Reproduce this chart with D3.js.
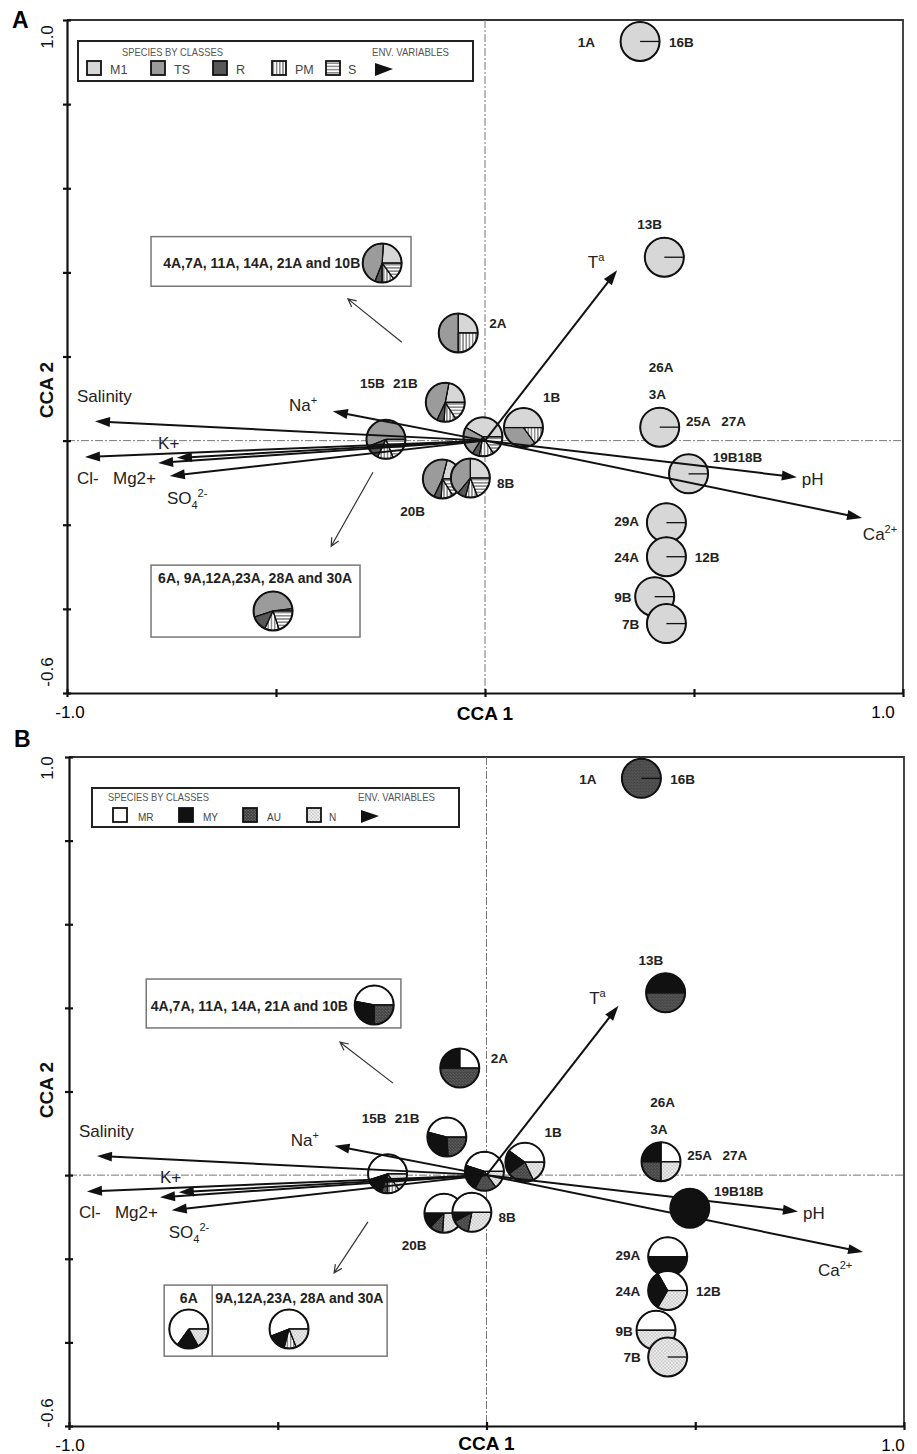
<!DOCTYPE html>
<html>
<head>
<meta charset="utf-8">
<style>
  body { margin: 0; background: #fff; }
  svg { display: block; font-family: "Liberation Sans", Arial, sans-serif; }
</style>
</head>
<body>
<svg id="chart" width="917" height="1454"></svg>
<script src="https://d3js.org/d3.v7.min.js"></script>
<script>
// ---- data ----

// environmental variables (arrow tips, CCA1 / CCA2)
const envNames = ["Salinity", "Na+", "K+", "Cl-", "Mg2+", "SO42-", "Ta", "pH", "Ca2+"];
const envX = [-0.933, -0.364, -0.737, -0.957, -0.782, -0.754, 0.316, 0.746, 0.902];
const envY = [ 0.046,  0.070, -0.041, -0.039, -0.053, -0.084, 0.405, -0.087, -0.184];

// sites (pie centres)
const siteIds = ["1A16B", "13B", "2A", "15B21B", "grp", "mid", "1B", "20B", "8B",
                 "25A", "19B18B", "29A", "24A", "9B", "7B"];
const siteX = [0.371, 0.429, -0.064, -0.095, -0.237, -0.005, 0.092, -0.102, -0.035,
               0.418, 0.487, 0.434, 0.434, 0.406, 0.434];
const siteY = [0.949, 0.436, 0.256, 0.091, 0.003, 0.009, 0.031, -0.091, -0.089,
               0.032, -0.079, -0.195, -0.276, -0.371, -0.435];

// site labels
const siteLabels = ["1A", "16B", "13B", "2A", "15B", "21B", "1B", "20B", "8B", "26A", "3A",
                    "25A", "27A", "19B18B", "29A", "24A", "12B", "9B", "7B"];

// panel A: species by classes
const classesA = ["M1", "TS", "R", "PM", "S"];
const valuesA = [
  [1, 0, 0, 0, 0],
  [1, 0, 0, 0, 0],
  [0.25, 0.50, 0, 0.25, 0],
  [0.22, 0.46, 0.06, 0.10, 0.16],
  [0, 0.56, 0.12, 0.13, 0.19],
  [0.42, 0.24, 0.06, 0.12, 0.16],
  [0.50, 0.35, 0, 0.15, 0],
  [0.21, 0.47, 0.06, 0.10, 0.16],
  [0.25, 0.39, 0.07, 0.10, 0.19],
  [1, 0, 0, 0, 0],
  [1, 0, 0, 0, 0],
  [1, 0, 0, 0, 0],
  [1, 0, 0, 0, 0],
  [1, 0, 0, 0, 0],
  [1, 0, 0, 0, 0]
];
const inset4A_A = [0.24, 0.45, 0.06, 0.10, 0.15];
const inset6A_A = [0.02, 0.53, 0.13, 0.12, 0.20];

// panel B: species by classes (4th value = striped slice drawn without a legend entry)
const classesB = ["MR", "MY", "AU", "N"];
const valuesB = [
  [0, 0, 1, 0, 0],
  [0, 0.5, 0.5, 0, 0],
  [0.25, 0.25, 0.5, 0, 0],
  [0.46, 0.30, 0.24, 0, 0],
  [0.55, 0.15, 0.05, 0.10, 0.15],
  [0.45, 0.22, 0.18, 0, 0.15],
  [0.40, 0.20, 0.22, 0, 0.18],
  [0.50, 0.13, 0.11, 0, 0.26],
  [0.50, 0.08, 0.14, 0, 0.28],
  [0.25, 0.25, 0.25, 0, 0.25],
  [0, 1, 0, 0, 0],
  [0.5, 0.5, 0, 0, 0],
  [0.333, 0.333, 0, 0, 0.334],
  [0.5, 0, 0, 0, 0.5],
  [0, 0, 0, 0, 1]
];
const inset4A_B = [0.47, 0.28, 0.25, 0, 0];
const inset6A_B = [0.65, 0.18, 0, 0, 0.17];
const inset9A_B = [0.56, 0.15, 0, 0.10, 0.19];

const xTickValues = [-1, -0.5, 0, 0.5, 1];
const yTickValues = [-0.6, -0.4, -0.2, 0, 0.2, 0.4, 0.6, 0.8, 1.0];

// ---- layout ----
const siteLabelPos = [[0.222, 0.936], [0.44, 0.936], [0.364, 0.503], [0.01, 0.267], [-0.299, 0.125],
  [-0.22, 0.125], [0.139, 0.092], [-0.203, -0.179], [0.029, -0.113], [0.392, 0.163], [0.392, 0.099],
  [0.481, 0.035], [0.565, 0.035], [0.545, -0.05], [0.309, -0.203], [0.309, -0.289], [0.502, -0.289],
  [0.309, -0.384], [0.328, -0.448]];
const envLabelPosA = [[-0.976, 0.092], [-0.469, 0.070], [-0.782, -0.020], [-0.976, -0.103],
  [-0.890, -0.103], [-0.761, -0.150], [0.246, 0.410], [0.758, -0.105], [0.904, -0.236]];
const envLabelPosB = envLabelPosA.map((p, i) => i === 8 ? [0.794, -0.242] : p);

const R = 19.5;
const svg = d3.select("#chart");
const defs = svg.append("defs");

function linePattern(id, vertical) {
  const p = defs.append("pattern").attr("id", id).attr("patternUnits", "userSpaceOnUse")
    .attr("width", 3.2).attr("height", 3.2);
  p.append("rect").attr("width", 3.2).attr("height", 3.2).attr("fill", "#fff");
  if (vertical) p.append("line").attr("x1", 1.6).attr("x2", 1.6).attr("y1", 0).attr("y2", 3.2);
  else p.append("line").attr("y1", 1.6).attr("y2", 1.6).attr("x1", 0).attr("x2", 3.2);
  p.select("line").attr("stroke", "#333").attr("stroke-width", 0.9);
}
function dotPattern(id, bg, dot, s, r) {
  const p = defs.append("pattern").attr("id", id).attr("patternUnits", "userSpaceOnUse")
    .attr("width", s).attr("height", s);
  p.append("rect").attr("width", s).attr("height", s).attr("fill", bg);
  p.append("circle").attr("cx", s / 4).attr("cy", s / 4).attr("r", r).attr("fill", dot);
  p.append("circle").attr("cx", 3 * s / 4).attr("cy", 3 * s / 4).attr("r", r).attr("fill", dot);
}
linePattern("pm", true);
linePattern("hs", false);
dotPattern("au", "#3e3e3e", "#8c8c8c", 3, 0.6);
dotPattern("nn", "#efefef", "#8a8a8a", 3.4, 0.55);

const fillsA = ["#d7d7d7", "#9b9b9b", "#575757", "url(#pm)", "url(#hs)"];
const fillsB = ["#ffffff", "#111111", "url(#au)", "url(#pm)", "url(#nn)"];

const pie = d3.pie().sort(null).startAngle(Math.PI / 2).endAngle(Math.PI / 2 - 2 * Math.PI);
const arc = d3.arc().innerRadius(0).outerRadius(R);

function drawPie(g, cx, cy, vals, fills) {
  const pg = g.append("g").attr("transform", `translate(${cx},${cy})`);
  const arcs = pie(vals).map((a, i) => Object.assign(a, { k: i })).filter(a => a.value > 0);
  pg.selectAll("path").data(arcs).join("path")
    .attr("d", arc).attr("fill", a => fills[a.k])
    .attr("stroke", "#111").attr("stroke-width", 1);
  pg.selectAll("line").data(arcs).join("line")
    .attr("x2", a => R * Math.sin(a.startAngle)).attr("y2", a => -R * Math.cos(a.startAngle))
    .attr("stroke", "#111").attr("stroke-width", 1.3);
  pg.append("circle").attr("r", R).attr("fill", "none").attr("stroke", "#111").attr("stroke-width", 2);
}

function envText(t, name) {
  const parts = {
    "Na+": [["Na", 0], ["+", -1]],
    "Ca2+": [["Ca", 0], ["2+", -1]],
    "SO42-": [["SO", 0], ["4", 1], ["2-", -1]],
    "Ta": [["T", 0], ["a", -1]]
  }[name] || [[name, 0]];
  let cur = 0;
  parts.forEach(([s, lvl]) => {
    const target = lvl === -1 ? -7 : lvl === 1 ? 5 : 0;
    t.append("tspan").text(s).attr("dy", target - cur).attr("font-size", lvl ? 11 : null);
    cur = target;
  });
}

function panel(cfg) {
  const g = svg.append("g");
  const x = d3.scaleLinear().domain([-1, 1]).range([cfg.x0, cfg.x1]);
  const y = d3.scaleLinear().domain([-0.6, 1]).range([cfg.y1, cfg.y0]);

  g.append("path").attr("d", `M${x(-1)},${y(1)}H${x(1)}V${y(-0.6)}`)
    .attr("fill", "none").attr("stroke", "#333").attr("stroke-width", 1.8);

  // zero lines
  g.append("line").attr("x1", x(-1)).attr("x2", x(1)).attr("y1", y(0)).attr("y2", y(0))
    .attr("stroke", "#777").attr("stroke-width", 1).attr("stroke-dasharray", "8,2,2,2");
  g.append("line").attr("x1", x(0)).attr("x2", x(0)).attr("y1", y(1)).attr("y2", y(-0.6))
    .attr("stroke", "#777").attr("stroke-width", 1).attr("stroke-dasharray", "8,2,2,2");

  // axes with ticks crossing the line
  const axStyle = s => { s.selectAll("path,line").attr("stroke", "#111").attr("stroke-width", 2.2); s.selectAll("text").remove(); };
  g.append("g").attr("transform", `translate(${x(-1)},0)`)
    .call(d3.axisLeft(y).tickValues(yTickValues).tickSize(4).tickSizeOuter(0)).call(axStyle);
  g.append("g").attr("transform", `translate(${x(-1)},0)`)
    .call(d3.axisRight(y).tickValues(yTickValues).tickSize(4).tickSizeOuter(0))
    .call(axStyle).select(".domain").remove();
  g.append("g").attr("transform", `translate(0,${y(-0.6)})`)
    .call(d3.axisBottom(x).tickValues(xTickValues).tickSize(4).tickSizeOuter(0)).call(axStyle);
  g.append("g").attr("transform", `translate(0,${y(-0.6)})`)
    .call(d3.axisTop(x).tickValues(xTickValues).tickSize(4).tickSizeOuter(0))
    .call(axStyle).select(".domain").remove();

  // tick labels & titles
  const rot = (cx, cy, txt, size, weight) => g.append("text")
    .attr("transform", `translate(${cx},${cy}) rotate(-90)`).attr("text-anchor", "middle")
    .attr("font-size", size).attr("font-weight", weight).attr("fill", "#111").text(txt);
  rot(53, cfg.lab1y, "1.0", 17, "normal");
  rot(53, cfg.labm06y, "-0.6", 17, "normal");
  rot(53, cfg.ccay, "CCA 2", 19, "bold");
  const bl = y(-0.6) + 25;
  g.append("text").attr("x", 70).attr("y", bl).attr("text-anchor", "middle").attr("font-size", 17).text("-1.0");
  g.append("text").attr("x", cfg.lab1x).attr("y", bl).attr("text-anchor", "middle").attr("font-size", 17).text("1.0");
  g.append("text").attr("x", x(0)).attr("y", bl + cfg.ccaDy).attr("text-anchor", "middle")
    .attr("font-size", 19).attr("font-weight", "bold").text("CCA 1");
  g.append("text").attr("x", cfg.letter[1]).attr("y", cfg.letter[2])
    .attr("font-size", 23).attr("font-weight", "bold").text(cfg.letter[0]);

  // legend
  const L = cfg.legend;
  const lg = g.append("g").attr("transform", `translate(${x(-1)},${y(1)})`);
  lg.append("rect").attr("x", L.box[0]).attr("y", L.box[1]).attr("width", L.box[2] - L.box[0])
    .attr("height", L.box[3] - L.box[1]).attr("fill", "#fff").attr("stroke", "#222").attr("stroke-width", 2);
  lg.append("text").attr("x", L.head[0]).attr("y", L.head[2]).attr("font-size", 10.5).attr("fill", "#555")
    .attr("textLength", 101).attr("lengthAdjust", "spacingAndGlyphs").text("SPECIES BY CLASSES");
  lg.append("text").attr("x", L.head[1]).attr("y", L.head[2]).attr("font-size", 10.5).attr("fill", "#555")
    .attr("textLength", 77).attr("lengthAdjust", "spacingAndGlyphs").text("ENV. VARIABLES");
  cfg.classes.forEach((c, i) => {
    lg.append("rect").attr("x", L.sw[i]).attr("y", L.swy).attr("width", 14).attr("height", 14)
      .attr("fill", cfg.fills[L.fillIdx[i]]).attr("stroke", "#111").attr("stroke-width", 1.8);
    lg.append("text").attr("x", L.lx[i]).attr("y", L.swy + 13).attr("font-size", L.fs)
      .attr("fill", "#444").text(c);
  });
  lg.append("path").attr("d", `M${L.tri},${L.swy + 2}L${L.tri + 18},${L.swy + 8}L${L.tri},${L.swy + 15}Z`)
    .attr("fill", "#111");

  // inset boxes
  cfg.insets.forEach(ins => {
    g.append("rect").attr("x", x(ins.box[0])).attr("y", y(ins.box[1]))
      .attr("width", x(ins.box[2]) - x(ins.box[0])).attr("height", y(ins.box[3]) - y(ins.box[1]))
      .attr("fill", "#fff").attr("stroke", "#777").attr("stroke-width", 1.5);
    (ins.div || []).forEach(d => g.append("line").attr("x1", x(d)).attr("x2", x(d))
      .attr("y1", y(ins.box[1])).attr("y2", y(ins.box[3])).attr("stroke", "#777").attr("stroke-width", 1.5));
    ins.texts.forEach(t => g.append("text").attr("x", x(t[1])).attr("y", y(t[2]))
      .attr("text-anchor", t[3] || "start").attr("font-size", 14).attr("font-weight", "bold")
      .attr("fill", "#222").text(t[0]));
    ins.pies.forEach(p => drawPie(g, x(p[0]), y(p[1]), p[2], cfg.fills));
  });

  // pointer arrows
  cfg.pointers.forEach(p => {
    const x1 = x(p[0]), y1 = y(p[1]), x2 = x(p[2]), y2 = y(p[3]);
    const a = Math.atan2(y2 - y1, x2 - x1), h = 9;
    g.append("path").attr("d",
      `M${x1},${y1}L${x2},${y2}M${x2 - h * Math.cos(a - 0.45)},${y2 - h * Math.sin(a - 0.45)}L${x2},${y2}L${x2 - h * Math.cos(a + 0.45)},${y2 - h * Math.sin(a + 0.45)}`)
      .attr("fill", "none").attr("stroke", "#333").attr("stroke-width", 1.2);
  });

  // site pies
  siteIds.forEach((s, i) => drawPie(g, x(siteX[i]), y(siteY[i]), cfg.values[i], cfg.fills));

  // environmental arrows
  envNames.forEach((n, i) => {
    const x1 = x(0), y1 = y(0), x2 = x(envX[i]), y2 = y(envY[i]);
    const a = Math.atan2(y2 - y1, x2 - x1), hl = 15, hw = 5;
    const bx = x2 - hl * Math.cos(a), by = y2 - hl * Math.sin(a);
    g.append("line").attr("x1", x1).attr("y1", y1).attr("x2", bx + 2 * Math.cos(a)).attr("y2", by + 2 * Math.sin(a))
      .attr("stroke", "#111").attr("stroke-width", 2);
    g.append("path").attr("d",
      `M${x2},${y2}L${bx - hw * Math.sin(a)},${by + hw * Math.cos(a)}L${bx + hw * Math.sin(a)},${by - hw * Math.cos(a)}Z`)
      .attr("fill", "#111");
    const t = g.append("text").attr("x", x(cfg.envPos[i][0])).attr("y", y(cfg.envPos[i][1]))
      .attr("font-size", 17).attr("fill", "#222");
    envText(t, n);
  });

  // site labels
  siteLabels.forEach((s, i) => g.append("text").attr("x", x(siteLabelPos[i][0])).attr("y", y(siteLabelPos[i][1]))
    .attr("font-size", 13.5).attr("font-weight", "bold").attr("fill", "#222").text(s));
}

panel({
  x0: 67, x1: 903, y0: 20, y1: 693,
  letter: ["A", 12, 28], lab1y: 37, labm06y: 672, ccay: 390, lab1x: 883, ccaDy: 2,
  classes: classesA, values: valuesA, fills: fillsA, envPos: envLabelPosA,
  legend: { box: [11, 21, 406, 61], head: [55, 305, 36], sw: [20, 84, 146, 205, 259],
            lx: [43, 107, 169, 228, 281], swy: 41, tri: 308, fs: 12.5, fillIdx: [0, 1, 2, 3, 4] },
  insets: [
    { box: [-0.799, 0.485, -0.177, 0.367], texts: [["4A,7A, 11A, 14A, 21A and 10B", -0.770, 0.410]],
      pies: [[-0.246, 0.422, inset4A_A]] },
    { box: [-0.799, -0.296, -0.299, -0.467], texts: [["6A, 9A,12A,23A, 28A and 30A", -0.782, -0.339]],
      pies: [[-0.507, -0.405, inset6A_A]] }
  ],
  pointers: [[-0.199, 0.234, -0.328, 0.337], [-0.268, -0.075, -0.368, -0.251]]
});

panel({
  x0: 69, x1: 904, y0: 757, y1: 1426,
  letter: ["B", 14, 747], lab1y: 768, labm06y: 1413, ccay: 1090, lab1x: 893, ccaDy: -1,
  classes: classesB, values: valuesB, fills: fillsB, envPos: envLabelPosB,
  legend: { box: [23, 31, 390, 70], head: [39, 289, 44], sw: [44, 110, 174, 238],
            lx: [69, 134, 198, 260], swy: 51, tri: 292, fs: 10, fillIdx: [0, 1, 2, 4] },
  insets: [
    { box: [-0.815, 0.469, -0.205, 0.352], texts: [["4A,7A, 11A, 14A, 21A and 10B", -0.804, 0.392]],
      pies: [[-0.269, 0.407, inset4A_B]] },
    { box: [-0.772, -0.263, -0.238, -0.433], div: [-0.657],
      texts: [["6A", -0.713, -0.306, "middle"], ["9A,12A,23A, 28A and 30A", -0.650, -0.306]],
      pies: [[-0.713, -0.368, inset6A_B], [-0.473, -0.368, inset9A_B]] }
  ],
  pointers: [[-0.224, 0.220, -0.351, 0.318], [-0.284, -0.112, -0.365, -0.234]]
});
</script>
</body>
</html>
